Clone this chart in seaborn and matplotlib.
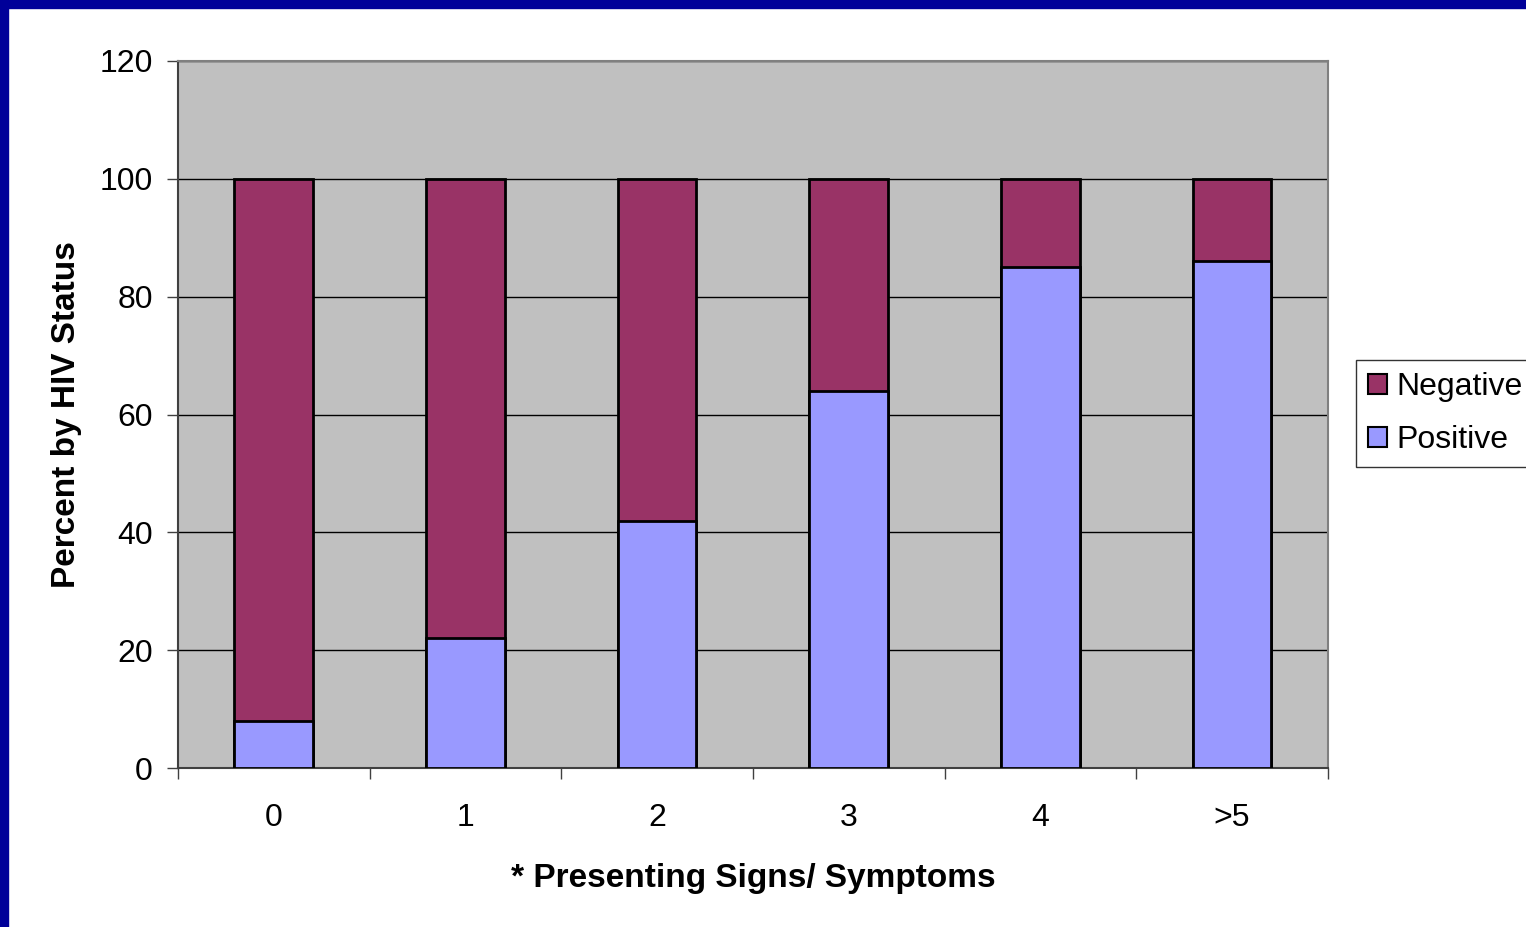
import pandas as pd
import seaborn as sns
import matplotlib.pyplot as plt
from matplotlib.patches import Rectangle, Patch
from matplotlib.ticker import FixedLocator

# values (percent by HIV status)
signs = ['0', '1', '2', '3', '4', '>5']
positive = [8, 22, 42, 64, 85, 86]
negative = [92, 78, 58, 36, 15, 14]

df = pd.DataFrame({'signs': signs, 'Positive': positive, 'Negative': negative})
df['total'] = df['Positive'] + df['Negative']

sns.set_style('white')
plt.rcParams['font.family'] = ['Liberation Sans', 'DejaVu Sans']
plt.rcParams['text.color'] = 'black'
plt.rcParams['axes.labelcolor'] = 'black'
plt.rcParams['xtick.color'] = 'black'
plt.rcParams['ytick.color'] = 'black'

fig = plt.figure(figsize=(15.26, 9.27), dpi=100)
ax = fig.add_axes([0.1166, 0.1715, 0.7536, 0.7627])
ax.set_facecolor('#C0C0C0')

# stacked bars: full height in Negative colour, Positive drawn over the bottom part
sns.barplot(data=df, x='signs', y='total', color='#993366', width=0.41,
            edgecolor='black', linewidth=2, saturation=1, ax=ax, zorder=3)
sns.barplot(data=df, x='signs', y='Positive', color='#9999FF', width=0.41,
            edgecolor='black', linewidth=2, saturation=1, ax=ax, zorder=4)

ax.set_xlim(-0.5, 5.5)
ax.set_ylim(0, 120)
ax.set_yticks(range(0, 121, 20))
ax.yaxis.grid(True, color='black', linewidth=1, zorder=1)
ax.set_axisbelow(True)

ax.tick_params(axis='y', direction='out', length=8, width=1, color='#404040',
               labelsize=23, pad=10, left=True)
ax.tick_params(axis='x', which='major', length=0, labelsize=23, pad=25)
ax.xaxis.set_minor_locator(FixedLocator([i - 0.5 for i in range(7)]))
ax.tick_params(axis='x', which='minor', direction='out', length=8, width=1,
               color='#404040', bottom=True)

for side in ['top', 'right']:
    ax.spines[side].set_color('#808080')
    ax.spines[side].set_linewidth(1.5)
for side in ['left', 'bottom']:
    ax.spines[side].set_color('#404040')
    ax.spines[side].set_linewidth(1.5)

ax.set_xlabel('* Presenting Signs/ Symptoms', fontsize=24, fontweight='bold', labelpad=22)
ax.set_ylabel('Percent by HIV Status', fontsize=24, fontweight='bold', labelpad=13)

handles = [Patch(facecolor='#993366', edgecolor='black', linewidth=1.5, label='Negative'),
           Patch(facecolor='#9999FF', edgecolor='black', linewidth=1.5, label='Positive')]
leg = fig.legend(handles=handles, loc='upper left', bbox_to_anchor=(0.8886, 0.6117),
                 fontsize=23, frameon=True, fancybox=False, handlelength=0.6,
                 handleheight=0.6, handletextpad=0.28, borderpad=0.38,
                 labelspacing=0.72, borderaxespad=0)
leg.get_frame().set_edgecolor('black')
leg.get_frame().set_linewidth(1)

# dark blue slide border on the left and top
fig.patches.append(Rectangle((0, 0), 8 / 1526, 1, transform=fig.transFigure,
                             color='#000099', zorder=10))
fig.patches.append(Rectangle((0, 1 - 8 / 927), 1, 8 / 927, transform=fig.transFigure,
                             color='#000099', zorder=10))

fig.savefig('out.png', dpi=100)
